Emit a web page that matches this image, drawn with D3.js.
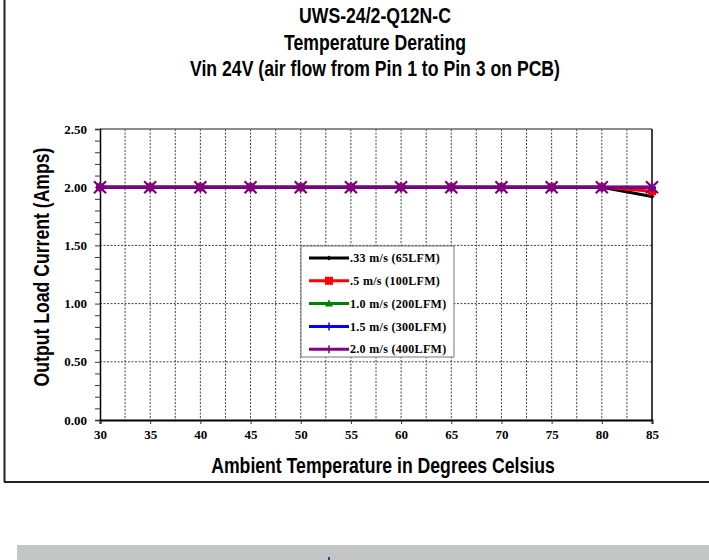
<!DOCTYPE html>
<html><head><meta charset="utf-8">
<script src="https://cdn.jsdelivr.net/npm/d3@7"></script>
<style>body{margin:0;background:#fff}svg{display:block}</style>
</head><body>
<svg id="c" width="709" height="560"></svg>
<script>
const temps = [30,35,40,45,50,55,60,65,70,75,80,85];
const s033 = [2,2,2,2,2,2,2,2,2,2,2,1.92];
const s05  = [2,2,2,2,2,2,2,2,2,2,2,1.965];
const s10  = [2,2,2,2,2,2,2,2,2,2,2,2];
const s15  = [2,2,2,2,2,2,2,2,2,2,2,2];
const s20  = [2,2,2,2,2,2,2,2,2,2,2,2];
const seriesNames = [".33 m/s (65LFM)",".5 m/s (100LFM)","1.0 m/s (200LFM)","1.5 m/s (300LFM)","2.0 m/s (400LFM)"];
const seriesColors = ["#000000","#ff0000","#008000","#0000ff","#800080"];
const seriesMarkers = ["diamond","square","triangle","plus","star"];
const seriesValues = [s033,s05,s10,s15,s20];
const titleLines = ["UWS-24/2-Q12N-C","Temperature Derating","Vin 24V (air flow from Pin 1 to Pin 3 on PCB)"];

const svg = d3.select("#c");
const L=100,R=652,T=129,B=420;
const x = d3.scaleLinear().domain([30,85]).range([L,R]);
const y = d3.scaleLinear().domain([0,2.5]).range([B,T]);

// condensed text helper (narrow font emulation)
function narrow(sel, k){
  sel.each(function(){
    const w = this.getComputedTextLength();
    d3.select(this).attr("textLength", w*k).attr("lengthAdjust","spacingAndGlyphs");
  });
}

// outer frame
svg.append("line").attr("x1",4.5).attr("x2",4.5).attr("y1",0).attr("y2",482).attr("stroke","#222").attr("stroke-width",2);
svg.append("line").attr("x1",4).attr("x2",709).attr("y1",482).attr("y2",482).attr("stroke","#222").attr("stroke-width",2);
// gray bar
svg.append("rect").attr("x",17).attr("y",545).attr("width",692).attr("height",15).attr("fill","#c4c5c7");
svg.append("rect").attr("x",328).attr("y",557).attr("width",2).attr("height",3).attr("fill","#1a4f8a");

// titles
const tf = "'Liberation Sans',Arial,sans-serif";
svg.selectAll("text.title").data(titleLines).enter().append("text").attr("class","title")
  .attr("x",375).attr("y",(d,i)=>23+i*26.5).attr("text-anchor","middle")
  .attr("font-family",tf).attr("font-weight","bold").attr("font-size",21.5).text(d=>d)
  .call(narrow,0.82);

// grid
const gridX = d3.range(32.5,85,2.5);
svg.append("g").selectAll("line").data(gridX).enter().append("line")
  .attr("x1",d=>x(d)).attr("x2",d=>x(d)).attr("y1",T).attr("y2",B)
  .attr("stroke","#444").attr("stroke-width",1).attr("stroke-dasharray","2,1.5");
svg.append("g").selectAll("line").data([0.5,1,1.5,2]).enter().append("line")
  .attr("x1",L).attr("x2",R).attr("y1",d=>y(d)).attr("y2",d=>y(d))
  .attr("stroke","#444").attr("stroke-width",1).attr("stroke-dasharray","2,1.5");

// plot border top and right
svg.append("line").attr("x1",L).attr("x2",R).attr("y1",T).attr("y2",T).attr("stroke","#666").attr("stroke-width",1.5);
svg.append("line").attr("x1",R).attr("x2",R).attr("y1",T).attr("y2",B).attr("stroke","#000").attr("stroke-width",1.5);

const sf = "'Liberation Serif','Times New Roman',serif";
// axes
const ya = svg.append("g").attr("transform",`translate(${L},0)`)
  .call(d3.axisLeft(y).tickValues(d3.range(0,2.51,0.1)).tickSize(5).tickFormat(d=>{
     const r=Math.round(d*10)/10; return (Math.abs(r*2-Math.round(r*2))<1e-6)? d3.format(".2f")(r):"";}));
ya.select(".domain").attr("stroke","#000").attr("stroke-width",1.5);
ya.selectAll(".tick line").attr("stroke","#333");
ya.selectAll("text").attr("font-family",sf).attr("font-weight","bold").attr("font-size",13).attr("x",-13).attr("dy","0.32em");

const xa = svg.append("g").attr("transform",`translate(0,${B})`)
  .call(d3.axisBottom(x).tickValues(temps).tickSize(4).tickFormat(d3.format("d")));
xa.select(".domain").attr("stroke","#000").attr("stroke-width",2);
xa.selectAll(".tick line").attr("stroke","#333");
xa.selectAll("text").attr("font-family",sf).attr("font-weight","bold").attr("font-size",13).attr("y",10);

// axis titles
svg.append("text").attr("x",383).attr("y",472.5).attr("text-anchor","middle")
  .attr("font-family",tf).attr("font-weight","bold").attr("font-size",21.5).text("Ambient Temperature in Degrees Celsius")
  .call(narrow,0.82);
svg.append("text").attr("transform","translate(48.5,267) rotate(-90)").attr("text-anchor","middle")
  .attr("font-family",tf).attr("font-weight","bold").attr("font-size",21.5).text("Output Load Current (Amps)")
  .call(narrow,0.82);

// markers
function marker(g,type,color,cx,cy){
  if(type==="diamond") g.append("path").attr("d",`M${cx},${cy-2.5}L${cx+2.5},${cy}L${cx},${cy+2.5}L${cx-2.5},${cy}Z`).attr("fill",color);
  else if(type==="square") g.append("rect").attr("x",cx-4).attr("y",cy-4).attr("width",8).attr("height",8).attr("fill",color);
  else if(type==="triangle") g.append("path").attr("d",`M${cx},${cy-4}L${cx+4},${cy+3}L${cx-4},${cy+3}Z`).attr("fill",color);
  else if(type==="plus") g.append("path").attr("d",`M${cx-4},${cy}H${cx+4}M${cx},${cy-4}V${cy+4}`).attr("stroke",color).attr("stroke-width",1.5);
  else if(type==="star") g.append("path").attr("d",`M${cx-6},${cy-6}L${cx+6},${cy+6}M${cx-6},${cy+6}L${cx+6},${cy-6}M${cx},${cy-5}V${cy+5}`).attr("stroke",color).attr("stroke-width",2.2);
}
const line = d3.line().x(d=>x(d[0])).y(d=>y(d[1]));
seriesValues.forEach((vals,i)=>{
  const pts = temps.map((t,j)=>[t,vals[j]]);
  const g = svg.append("g");
  g.append("path").datum(pts).attr("d",line).attr("fill","none").attr("stroke",seriesColors[i]).attr("stroke-width",3);
  pts.forEach(p=>marker(g,seriesMarkers[i],seriesColors[i],x(p[0]),y(p[1])));
});

// legend
const lg = svg.append("g");
lg.append("rect").attr("x",301).attr("y",246).attr("width",153).attr("height",111).attr("fill","#fff").attr("stroke","#777").attr("stroke-width",1);
seriesNames.forEach((n,i)=>{
  const ly = 258+i*22.8;
  lg.append("line").attr("x1",309).attr("x2",349).attr("y1",ly).attr("y2",ly).attr("stroke",seriesColors[i]).attr("stroke-width",3);
  const s = seriesMarkers[i]==="star" ? "plus" : seriesMarkers[i];
  marker(lg,s,seriesColors[i],329,ly);
  lg.append("text").attr("x",350).attr("y",ly).attr("dy","0.35em").attr("font-family",sf).attr("font-weight","bold")
    .attr("font-size",12).attr("letter-spacing",0.3).text(n);
});
</script>
</body></html>
